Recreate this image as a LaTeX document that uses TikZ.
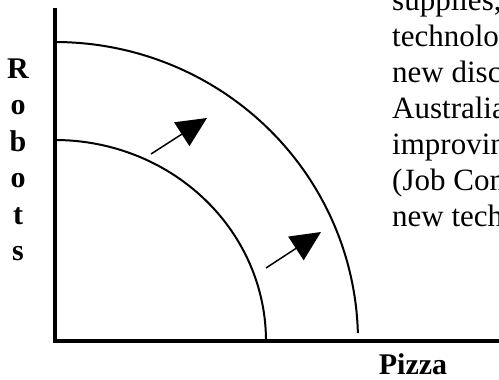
\documentclass[tikz,border=0pt]{standalone}
\usepackage{fontspec}
\setmainfont{Liberation Serif}
\usetikzlibrary{arrows.meta}
\begin{document}
\begin{tikzpicture}[x=1pt,y=-1pt,
  axisline/.style={line width=4pt},
  ppfcurve/.style={line width=2pt},
  shiftarrow/.style={line width=1.5pt,-{Triangle[length=30pt,width=28pt]}},
  bodytext/.style={anchor=base west,inner sep=0pt,font=\fontsize{31}{36}\selectfont},
  axislabel/.style={anchor=base,inner sep=0pt,font=\fontsize{30}{36}\selectfont\bfseries}]
\path[use as bounding box,clip] (0,0) rectangle (499,380);
% axes
\draw[axisline] (55,8) -- (55,343);
\draw[axisline] (53,341) -- (499,341);
% production possibility curves
\draw[ppfcurve] plot[domain=0:90,samples=80,smooth] ({55+211*cos(\x)},{341-201*sin(\x)});
\draw[ppfcurve] plot[domain=1.5:90,samples=80,smooth] ({55+303*cos(\x)},{341-299*sin(\x)});
% shift arrows
\coordinate (a1s) at (151,154);
\coordinate (a1e) at (207,118);
\coordinate (a2s) at (266,268);
\coordinate (a2e) at (321,232);
\draw[shiftarrow] (a1s) -- (a1e);
\draw[shiftarrow] (a2s) -- (a2e);
% axis labels
\node[axislabel] (r1) at (18,78) {R};
\node[axislabel] (r2) at (18,114.5) {o};
\node[axislabel] (r3) at (18,151) {b};
\node[axislabel] (r4) at (18,187.5) {o};
\node[axislabel] (r5) at (18,224) {t};
\node[axislabel] (r6) at (18,260.5) {s};
\node[axislabel] (pizza) at (413,374) {Pizza};
% text column (cut at the right edge)
\node[bodytext] (t1) at (392,10) {supplies,};
\node[bodytext] (t2) at (392,46) {technolo};
\node[bodytext] (t3) at (392,82) {new disc};
\node[bodytext] (t4) at (392,118) {Australia};
\node[bodytext] (t5) at (392,154) {improvin};
\node[bodytext] (t6) at (392,190) {(Job Com};
\node[bodytext] (t7) at (392,226) {new tech};
\end{tikzpicture}
\end{document}
